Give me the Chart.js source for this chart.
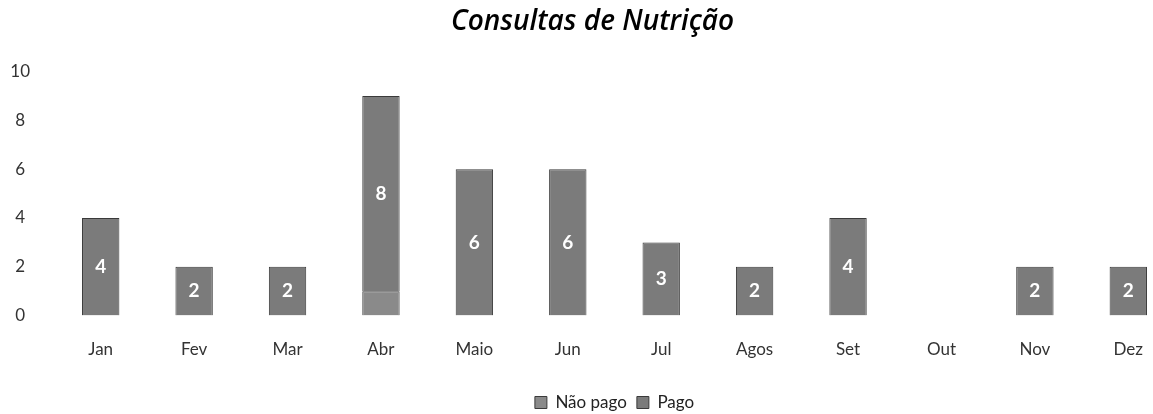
<!DOCTYPE html>
<html>
<head>
<meta charset="utf-8">
<script src="https://cdn.jsdelivr.net/npm/chart.js@4/dist/chart.umd.min.js"></script>
<style>
html,body{margin:0;padding:0;background:#fff;overflow:hidden;}
#wrap{position:relative;width:1200px;height:414px;}
</style>
</head>
<body>
<div id="wrap"><canvas id="c"></canvas></div>
<script>
const categories = ["Jan","Fev","Mar","Abr","Maio","Jun","Jul","Agos","Set","Out","Nov","Dez"];
const naoPago = [0,0,0,1,0,0,0,0,0,0,0,0];
const pago = [4,2,2,8,6,6,3,2,4,0,2,2];
const yTicks = [0,2,4,6,8,10];
const seriesNames = ["Não pago","Pago"];
const chartTitle = "Consultas de Nutrição";

const barLabels = {
  id: 'barLabels',
  afterDatasetsDraw(chart) {
    const ctx = chart.ctx;
    const meta = chart.getDatasetMeta(1);
    ctx.save();
    ctx.font = 'bold 19px Lato, "DejaVu Sans", sans-serif';
    ctx.fillStyle = '#ffffff';
    ctx.textAlign = 'center';
    ctx.textBaseline = 'middle';
    meta.data.forEach((el, i) => {
      const v = chart.data.datasets[1].data[i];
      if (!v) return;
      ctx.fillText(String(v), el.x, (el.y + el.base) / 2);
    });
    ctx.restore();
  }
};

new Chart(document.getElementById('c'), {
  type: 'bar',
  data: {
    labels: categories,
    datasets: [
      { label: seriesNames[0], data: naoPago, backgroundColor: '#8a8a8a', borderColor: '#3a3a3a', borderWidth: 1 },
      { label: seriesNames[1], data: pago, backgroundColor: '#7b7b7b', borderColor: '#3a3a3a', borderWidth: 1 }
    ]
  },
  options: {
    responsive: true,
    maintainAspectRatio: false,
    animation: false,
    layout: { padding: { left: 10, right: 25, top: 0, bottom: -7 } },
    datasets: { bar: { barPercentage: 0.4, categoryPercentage: 1.0 } },
    plugins: {
      title: {
        display: true,
        text: chartTitle,
        color: '#000',
        font: { family: '"Open Sans", Lato, sans-serif', size: 28, style: 'italic', weight: '600' },
        padding: { top: 5, bottom: 33 }
      },
      legend: {
        position: 'bottom',
        fullSize: false,
        labels: {
          color: '#222',
          font: { family: 'Lato, "Open Sans", sans-serif', size: 17 },
          boxWidth: 12, boxHeight: 12, padding: 10
        }
      },
      tooltip: { enabled: false }
    },
    scales: {
      x: {
        stacked: true,
        grid: { display: false, drawTicks: false },
        border: { display: false },
        ticks: { color: '#333', font: { family: 'Lato, "Open Sans", sans-serif', size: 17 }, padding: 24 }
      },
      y: {
        stacked: true,
        min: 0, max: 10,
        afterFit(scale) { scale.width = 44; },
        afterBuildTicks(scale) { scale.ticks = yTicks.map(v => ({ value: v })); },
        grid: { display: false, drawTicks: false },
        border: { display: false },
        ticks: { color: '#333', font: { family: 'Lato, "Open Sans", sans-serif', size: 17 }, padding: 24, crossAlign: 'center' }
      }
    }
  },
  plugins: [barLabels]
});
</script>
</body>
</html>
